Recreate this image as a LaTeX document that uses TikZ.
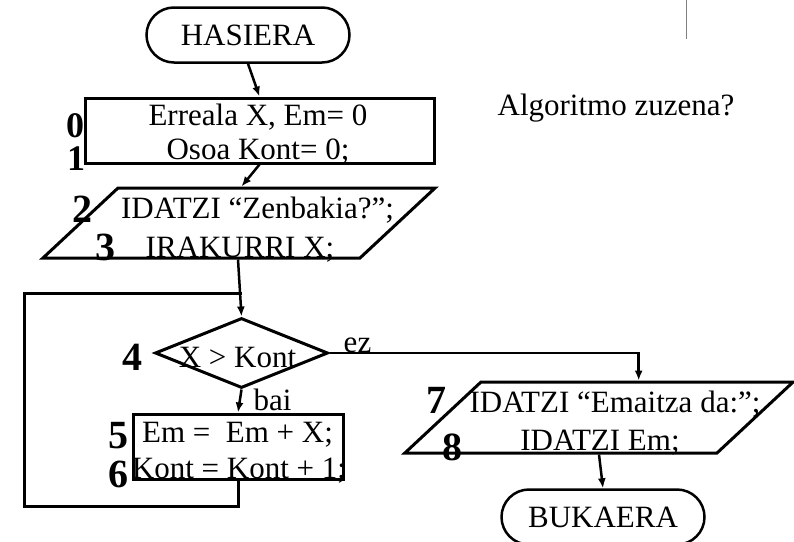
\documentclass[tikz,border=0pt]{standalone}
\usepackage{fontspec}
\setmainfont{Liberation Serif}
\usetikzlibrary{shapes.geometric,shapes.misc,arrows.meta}

\newcommand\txtfont{\fontsize{31}{35}\selectfont}
\newcommand\numfont{\fontsize{40}{44}\selectfont\bfseries}
% empty box that fixes the body of an io shape
\newcommand\iobody[2]{\rule{#1pt}{0pt}\rule{0pt}{#2pt}}

\tikzset{
  terminal/.style={rounded rectangle, draw, line width=2.5pt, minimum width=203, minimum height=55, inner sep=0pt, font=\txtfont},
  process/.style={rectangle, draw, line width=3pt, inner sep=0pt},
  io/.style={trapezium, draw, line width=3pt, trapezium left angle=43, trapezium right angle=137, inner sep=0pt},
  decision/.style={diamond, draw, line width=3pt, inner sep=0pt},
  txt/.style={anchor=base, inner sep=0pt, font=\txtfont},
  num/.style={anchor=base, inner sep=0pt, font=\numfont},
  link/.style={line width=3pt},
  arrow/.style={line width=2.5pt, -{Latex[length=10pt,width=8pt]}}
}

\begin{document}
\begin{tikzpicture}[x=1pt, y=-1pt]
  \useasboundingbox (0,0) rectangle (794,541);

  % shapes
  \node[terminal] (start) at (248,35) {HASIERA};
  \node[process, minimum width=349, minimum height=65] (init) at (259.5,130.5) {};
  \node[io] (read) at (239,223) {\iobody{242}{70}};
  \node[decision, minimum width=173, minimum height=70] (cond) at (241.5,353) {};
  \node[process, minimum width=210, minimum height=65] (body) at (238,446.5) {};
  \node[io] (out) at (599,417.5) {\iobody{236}{71}};
  \node[terminal] (end) at (603,517) {BUKAERA};

  % texts in the shapes
  \node[txt] (initA) at (258,125) {Erreala X, Em= 0};
  \node[txt] (initB) at (258,159) {Osoa Kont= 0;};
  \node[txt] (readA) at (257.5,218) {IDATZI “Zenbakia?”;};
  \node[txt] (readB) at (240,257) {IRAKURRI X;};
  \node[txt] (condA) at (237.5,367) {X > Kont};
  \node[txt] (bodyA) at (237.5,442) {Em = \ Em + X;};
  \node[txt] (bodyB) at (239,478) {Kont = Kont + 1;};
  \node[txt] (outA) at (615,412) {IDATZI “Emaitza da:”;};
  \node[txt] (outB) at (600,450) {IDATZI Em;};
  \node[txt] (question) at (616,115) {Algoritmo zuzena?};
  \node[txt] (no) at (357.5,352) {ez};
  \node[txt] (yes) at (272.5,410) {bai};

  % step numbers
  \node[num, font=\fontsize{36}{40}\selectfont\bfseries] (n0) at (75,137) {0};
  \node[num, font=\fontsize{36}{40}\selectfont\bfseries] (n1) at (76,170) {1};
  \node[num] (n2) at (82,222) {2};
  \node[num] (n3) at (105,260) {3};
  \node[num] (n4) at (132,370) {4};
  \node[num] (n5) at (118,448) {5};
  \node[num] (n6) at (118,487) {6};
  \node[num] (n7) at (436,413) {7};
  \node[num] (n8) at (452,460) {8};

  % connectors
  \coordinate (join) at (242,293);
  \coordinate (loopbl) at (24,506);
  \draw[arrow] (start.south) -- (init.north);
  \draw[arrow] (init.south) -- (read.top side -| cond.north);
  \draw[arrow] (read.bottom side -| body.north) -- (cond.north);
  \draw[arrow] (cond.south) -- (body.north);
  \draw[link] (body.south) -- (body.south |- loopbl) -- (loopbl) |- (join);
  \draw[arrow] (cond.east) -| (out.top side);
  \draw[arrow] (out.center |- out.bottom side) -- (end.north);

  \draw[gray, line width=1pt] (686,0) -- (686,39);
\end{tikzpicture}
\end{document}
